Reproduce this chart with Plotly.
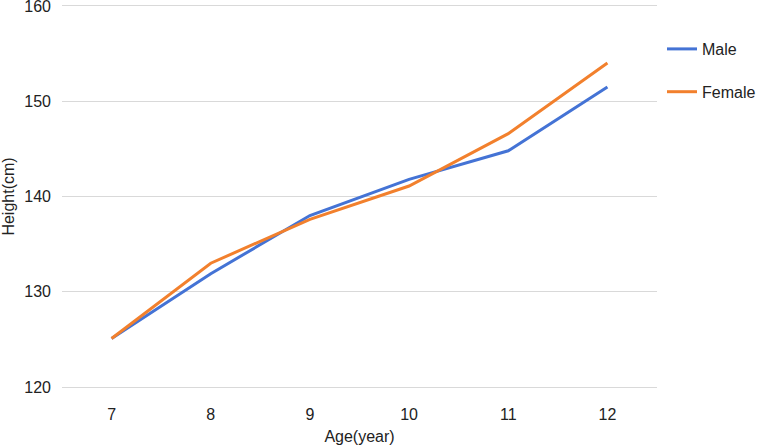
import plotly.graph_objects as go

ages = [7, 8, 9, 10, 11, 12]
male = [125.1, 131.9, 138.0, 141.8, 144.8, 151.5]
female = [125.1, 133.0, 137.6, 141.1, 146.6, 154.0]
y_ticks = [120, 130, 140, 150, 160]

FONT = "Liberation Sans, Arial, sans-serif"
TXT = "#222222"

fig = go.Figure()
fig.add_trace(go.Scatter(x=ages, y=male, mode="lines", name="Male",
                         line=dict(color="#4473d5", width=3), legendgroup="m"))
fig.add_trace(go.Scatter(x=ages, y=female, mode="lines", name="Female",
                         line=dict(color="#f2802d", width=3), legendgroup="f"))

fig.update_layout(
    width=758, height=446,
    margin=dict(l=62, r=101, t=4, b=57, autoexpand=False),
    paper_bgcolor="white", plot_bgcolor="white",
    font=dict(family=FONT, size=16, color=TXT),
    showlegend=True,
    legend=dict(x=1.0 + 5 / 595, xanchor="left", y=1.0 - 28 / 385, yanchor="top", yref="paper",
                traceorder="grouped", tracegroupgap=19,
                font=dict(size=16, color=TXT),
                bgcolor="rgba(0,0,0,0)", itemwidth=30),
    xaxis=dict(range=[6.5, 12.5], tickvals=ages, ticktext=[str(a) for a in ages],
               showgrid=False, zeroline=False, showline=False,
               ticks="", ticklabelstandoff=14,
               tickfont=dict(size=16, color=TXT),
               title=dict(text="Age(year)", font=dict(size=16, color=TXT), standoff=8)),
    yaxis=dict(range=[119.8, 160.2], tickvals=y_ticks,
               showgrid=True, gridcolor="#d9d9d9", gridwidth=1,
               zeroline=False, showline=False, ticks="", ticklabelstandoff=10,
               ticklabeloverflow="allow",
               tickfont=dict(size=16, color=TXT),
               title=dict(text="Height(cm)", font=dict(size=16, color=TXT), standoff=8)),
)

fig.write_html("out.html")
